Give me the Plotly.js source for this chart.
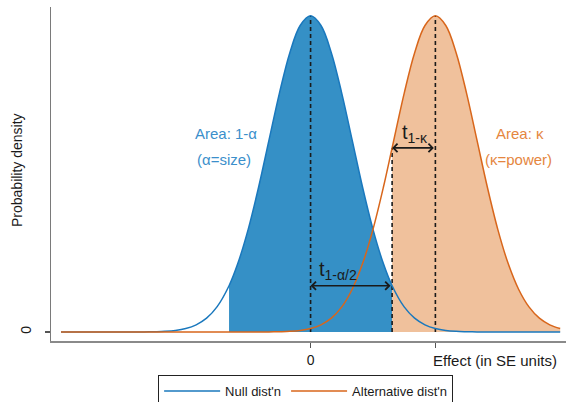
<!DOCTYPE html>
<html>
<head>
<meta charset="utf-8">
<script src="https://cdn.plot.ly/plotly-3.0.1.min.js"></script>
<style>html,body{margin:0;padding:0;background:#fff;}#chart{width:566px;height:402px;}</style>
</head>
<body>
<div id="chart"></div>
<script>
// Effect grid (SE units)
const effect = [-6,-5.75,-5.5,-5.25,-5,-4.75,-4.5,-4.25,-4,-3.75,-3.5,-3.25,-3,-2.75,-2.5,-2.25,-1.96,
  -1.75,-1.5,-1.25,-1,-0.75,-0.5,-0.25,0,0.25,0.5,0.75,1,1.25,1.5,1.75,1.96,
  2.25,2.5,2.75,3,3.25,3.5,3.75,4,4.25,4.5,4.75,5,5.25,5.5,5.75,6];
// Null distribution density
const nullDensity = [0,0,0,0,0,0,0,0,0.0001,0.0004,0.0009,0.0020,0.0044,0.0091,0.0175,0.0317,0.0584,
  0.0863,0.1295,0.1826,0.2420,0.3011,0.3521,0.3867,0.3989,0.3867,0.3521,0.3011,0.2420,0.1826,0.1295,0.0863,0.0584,
  0.0317,0.0175,0.0091,0.0044,0.0020,0.0009,0.0004,0.0001,0,0,0,0,0,0,0,0];
// Alternative distribution density
const altDensity = [0,0,0,0,0,0,0,0,0,0,0,0,0,0,0,0,0,
  0,0,0,0.0001,0.0004,0.0009,0.0020,0.0044,0.0091,0.0175,0.0317,0.0540,0.0863,0.1295,0.1826,0.2323,
  0.3011,0.3521,0.3867,0.3989,0.3867,0.3521,0.3011,0.2420,0.1826,0.1295,0.0863,0.0540,0.0317,0.0175,0.0091,0.0044];
const nullMean = 0;
const critValue = 1.96;
const altMean = 3;
const seriesNames = ["Null dist'n", "Alternative dist'n"];
const xTickVals = [0, 3];
const xTickText = ['0', ''];

const blueLine = '#1a78bd', blueFill = '#3590c6', blueText = '#3b8fcb';
const orangeLine = '#d8661b', orangeFill = '#f0c19c', orangeText = '#e5863e';

function at(arr, xv) { return arr[effect.indexOf(xv)]; }
function subset(arr, lo, hi) {
  const xs = [], ys = [];
  effect.forEach((v, i) => { if (v >= lo && v <= hi) { xs.push(v); ys.push(arr[i]); } });
  return {xs, ys};
}
const nullArea = subset(nullDensity, -critValue, critValue);
const altArea = subset(altDensity, critValue, effect[effect.length - 1]);

const dashStyle = {color: '#1a1a1a', width: 1.6, dash: '4px,3px'};
const traces = [
  {x: nullArea.xs, y: nullArea.ys, type: 'scatter', mode: 'lines', fill: 'tozeroy', fillcolor: blueFill,
   line: {width: 0, shape: 'spline', color: blueFill}, showlegend: false, hoverinfo: 'skip'},
  {x: altArea.xs, y: altArea.ys, type: 'scatter', mode: 'lines', fill: 'tozeroy', fillcolor: orangeFill,
   line: {width: 0, shape: 'spline', color: orangeFill}, showlegend: false, hoverinfo: 'skip'},
  {x: [nullMean, nullMean], y: [0, at(nullDensity, nullMean)], type: 'scatter', mode: 'lines', line: dashStyle, showlegend: false},
  {x: [critValue, critValue], y: [0, at(altDensity, critValue)], type: 'scatter', mode: 'lines', line: dashStyle, showlegend: false},
  {x: [altMean, altMean], y: [0, at(altDensity, altMean)], type: 'scatter', mode: 'lines', line: dashStyle, showlegend: false},
  {x: effect, y: nullDensity, type: 'scatter', mode: 'lines', name: seriesNames[0],
   line: {color: blueLine, width: 1.5, shape: 'spline'}},
  {x: effect, y: altDensity, type: 'scatter', mode: 'lines', name: seriesNames[1],
   line: {color: orangeLine, width: 1.5, shape: 'spline'}}
];

const arrowY1 = at(nullDensity, critValue);
const arrowY2 = at(altDensity, critValue);
const font = 'Liberation Sans, Arial, sans-serif';
const layout = {
  width: 566, height: 402,
  margin: {l: 51, r: 0, t: 7, b: 61, autoexpand: false},
  paper_bgcolor: '#fff', plot_bgcolor: '#fff',
  font: {family: font, color: '#1a1a1a', size: 13},
  xaxis: {range: [-6.24, 6.14], showgrid: false, zeroline: false, showline: true, linecolor: '#8a8a8a', linewidth: 2,
          tickvals: xTickVals, ticktext: xTickText, ticks: 'outside', ticklen: 5, tickcolor: '#555', tickwidth: 1.5,
          tickfont: {size: 14, color: '#1a1a1a'}, automargin: false},
  yaxis: {range: [-0.0113, 0.41], showgrid: false, zeroline: false, showline: true, linecolor: '#7a7a7a', linewidth: 1.5,
          tickvals: [0], ticktext: ['0'], ticks: 'outside', ticklen: 5, tickcolor: '#555', tickwidth: 1.5,
          tickangle: -90, ticklabelstandoff: 8, tickfont: {size: 14, color: '#1a1a1a'}, automargin: false},
  showlegend: true,
  legend: {orientation: 'h', x: 0.208, xanchor: 'left', y: -0.102, yanchor: 'top',
           bordercolor: '#222', borderwidth: 1, font: {size: 13, color: '#1a1a1a'}, itemwidth: 56,
           bgcolor: '#fff'},
  annotations: [
    {x: nullMean, y: arrowY1, ax: critValue, ay: arrowY1, xref: 'x', yref: 'y', axref: 'x', ayref: 'y',
     text: '', showarrow: true, arrowside: 'end+start', arrowhead: 4, arrowsize: 1, arrowwidth: 1.6, arrowcolor: '#1a1a1a', standoff: 0, startstandoff: 0},
    {x: critValue, y: arrowY2, ax: altMean, ay: arrowY2, xref: 'x', yref: 'y', axref: 'x', ayref: 'y',
     text: '', showarrow: true, arrowside: 'end+start', arrowhead: 4, arrowsize: 1, arrowwidth: 1.6, arrowcolor: '#1a1a1a', standoff: 0, startstandoff: 0},
    {x: 0.66, y: 0.078, xref: 'x', yref: 'y', text: 't<sub>1-α/2</sub>', showarrow: false, font: {size: 20, color: '#1a1a1a'}},
    {x: 2.5, y: 0.25, xref: 'x', yref: 'y', text: 't<sub>1-κ</sub>', showarrow: false, font: {size: 20, color: '#1a1a1a'}},
    {x: -2.04, y: 0.25, xref: 'x', yref: 'y', text: 'Area: 1-α', showarrow: false, font: {size: 15, color: blueText}},
    {x: -2.08, y: 0.218, xref: 'x', yref: 'y', text: '(α=size)', showarrow: false, font: {size: 15, color: blueText}},
    {x: 5.03, y: 0.25, xref: 'x', yref: 'y', text: 'Area: κ', showarrow: false, font: {size: 15, color: orangeText}},
    {x: 5.0, y: 0.218, xref: 'x', yref: 'y', text: '(κ=power)', showarrow: false, font: {size: 15, color: orangeText}},
    {x: altMean, xshift: -4, y: -0.057, xref: 'x', yref: 'paper', xanchor: 'left', yanchor: 'middle', text: 'Effect (in SE units)',
     showarrow: false, font: {size: 15, color: '#1a1a1a'}},
    {x: -0.066, y: 0.512, xref: 'paper', yref: 'paper', xanchor: 'center', yanchor: 'middle', textangle: -90, text: 'Probability density', showarrow: false,
     font: {size: 14, color: '#1a1a1a'}}
  ]
};
Plotly.newPlot('chart', traces, layout, {displayModeBar: false, staticPlot: true});
</script>
</body>
</html>
